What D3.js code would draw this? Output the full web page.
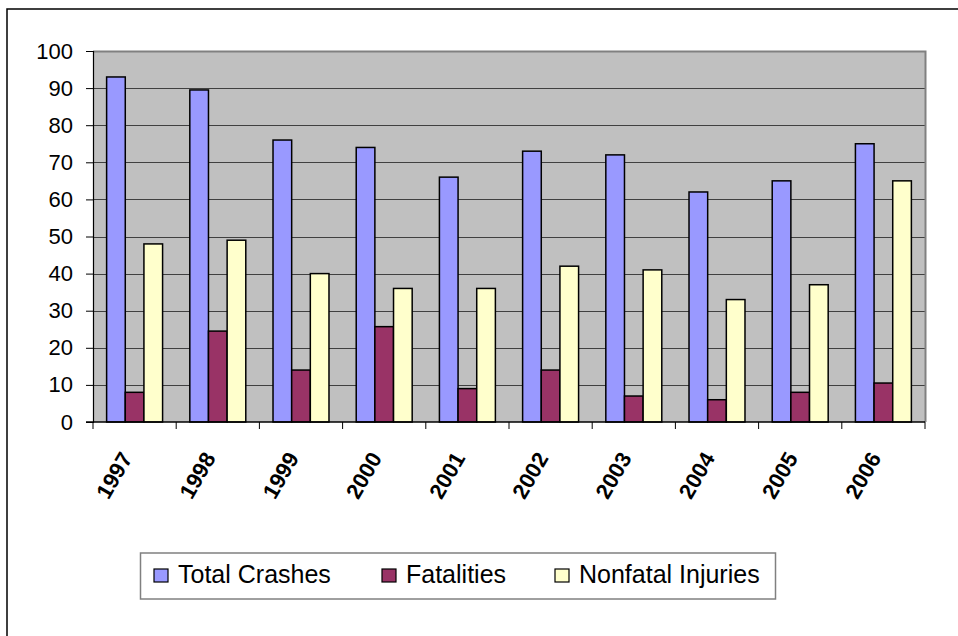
<!doctype html>
<html lang="en-US">
<head>
<meta charset="utf-8">
<title>Crashes 1997-2006</title>
<script src="https://cdn.jsdelivr.net/npm/d3@7/dist/d3.min.js"></script>
<style>
  html, body { margin: 0; padding: 0; background: #fff; }
  svg { display: block; }
  text { font-family: Arial, "Liberation Sans", sans-serif; fill: #000; }
</style>
</head>
<body>
<svg id="chart" width="958" height="636"></svg>
<script>
// data
var years = ["1997", "1998", "1999", "2000", "2001", "2002", "2003", "2004", "2005", "2006"];
var seriesNames = ["Total Crashes", "Fatalities", "Nonfatal Injuries"];
var seriesColors = ["#9999ff", "#993366", "#ffffcc"];
var totalCrashes = [93, 89.5, 76, 74, 66, 73, 72, 62, 65, 75];
var fatalities = [8, 24.5, 14, 25.7, 9, 14, 7, 6, 8, 10.5];
var nonfatalInjuries = [48, 49, 40, 36, 36, 42, 41, 33, 37, 65];
var yTicks = [0, 10, 20, 30, 40, 50, 60, 70, 80, 90, 100];

var allSeries = [totalCrashes, fatalities, nonfatalInjuries];

var svg = d3.select("#chart");

// outer frame: only top and left edges show in the picture
svg.append("path")
  .attr("d", "M7,636 V9 H958")
  .attr("fill", "none")
  .attr("stroke", "#000")
  .attr("stroke-width", 1.5);

var plot = { left: 93, top: 51, right: 925, bottom: 422 };

var x = d3.scaleBand()
  .domain(years)
  .range([plot.left, plot.right])
  .paddingInner(0)
  .paddingOuter(0);

var x1 = d3.scaleBand()
  .domain(d3.range(seriesNames.length))
  .range([0, x.bandwidth()])
  .paddingOuter(0.73)
  .paddingInner(0);

var y = d3.scaleLinear()
  .domain([0, 100])
  .range([plot.bottom, plot.top]);

// grey plot area
svg.append("rect")
  .attr("x", plot.left)
  .attr("y", plot.top)
  .attr("width", plot.right - plot.left)
  .attr("height", plot.bottom - plot.top)
  .attr("fill", "#c0c0c0");

// gridlines
svg.append("g")
  .selectAll("line")
  .data(yTicks.filter(function(d) { return d > 0 && d < 100; }))
  .join("line")
  .attr("x1", plot.left)
  .attr("x2", plot.right)
  .attr("y1", function(d) { return Math.round(y(d)) + 0.5; })
  .attr("y2", function(d) { return Math.round(y(d)) + 0.5; })
  .attr("stroke", "#404040")
  .attr("stroke-width", 1);

// top/right border of plot area
svg.append("path")
  .attr("d", "M" + plot.left + "," + (plot.top + 0.5) + " H" + (plot.right + 0.5) + " V" + plot.bottom)
  .attr("fill", "none")
  .attr("stroke", "#808080")
  .attr("stroke-width", 2);

// bars
var groups = svg.append("g")
  .selectAll("g")
  .data(years)
  .join("g")
  .attr("transform", function(d) { return "translate(" + x(d) + ",0)"; });

groups.selectAll("rect")
  .data(function(d, i) {
    return allSeries.map(function(s, k) { return { k: k, v: s[i] }; });
  })
  .join("rect")
  .attr("x", function(d) { return x1(d.k); })
  .attr("y", function(d) { return y(d.v); })
  .attr("width", x1.bandwidth())
  .attr("height", function(d) { return y(0) - y(d.v); })
  .attr("fill", function(d) { return seriesColors[d.k]; })
  .attr("stroke", "#000")
  .attr("stroke-width", 1.5);

// y axis
var yAxis = svg.append("g")
  .attr("transform", "translate(" + plot.left + ",0)")
  .call(d3.axisLeft(y).tickValues(yTicks).tickSize(7).tickPadding(13));
yAxis.select(".domain").attr("stroke", "#000").attr("stroke-width", 1.2);
yAxis.selectAll(".tick line").attr("stroke", "#000");
yAxis.selectAll("text")
  .style("font-size", "22px")
  .style("font-family", "Arial, 'Liberation Sans', sans-serif");

// x axis line and category ticks at band edges
svg.append("line")
  .attr("x1", plot.left - 7)
  .attr("x2", plot.right)
  .attr("y1", plot.bottom)
  .attr("y2", plot.bottom)
  .attr("stroke", "#000")
  .attr("stroke-width", 1.5);

svg.append("g")
  .selectAll("line")
  .data(years.concat(["end"]))
  .join("line")
  .attr("x1", function(d) { return d === "end" ? plot.right : x(d); })
  .attr("x2", function(d) { return d === "end" ? plot.right : x(d); })
  .attr("y1", plot.bottom)
  .attr("y2", plot.bottom + 7)
  .attr("stroke", "#000");

// rotated year labels
svg.append("g")
  .selectAll("text")
  .data(years)
  .join("text")
  .attr("transform", function(d) {
    return "translate(" + (x(d) + x.bandwidth() / 2 - 1.5) + "," + (plot.bottom + 36) + ") rotate(-60)";
  })
  .attr("text-anchor", "end")
  .style("font-size", "22px")
  .style("font-weight", "bold")
  .text(function(d) { return d; });

// legend
var legend = svg.append("g");
legend.append("rect")
  .attr("x", 140.5)
  .attr("y", 553)
  .attr("width", 635)
  .attr("height", 46)
  .attr("fill", "#fff")
  .attr("stroke", "#808080")
  .attr("stroke-width", 1.5);

var legendX = [154, 382, 555];
var items = legend.selectAll("g.item")
  .data(seriesNames)
  .join("g")
  .attr("class", "item")
  .attr("transform", function(d, i) { return "translate(" + legendX[i] + ",569)"; });

items.append("rect")
  .attr("width", 14)
  .attr("height", 13)
  .attr("fill", function(d, i) { return seriesColors[i]; })
  .attr("stroke", "#000")
  .attr("stroke-width", 1.2);

items.append("text")
  .attr("x", 24)
  .attr("y", 14)
  .style("font-size", "25px")
  .text(function(d) { return d; });
</script>
</body>
</html>
